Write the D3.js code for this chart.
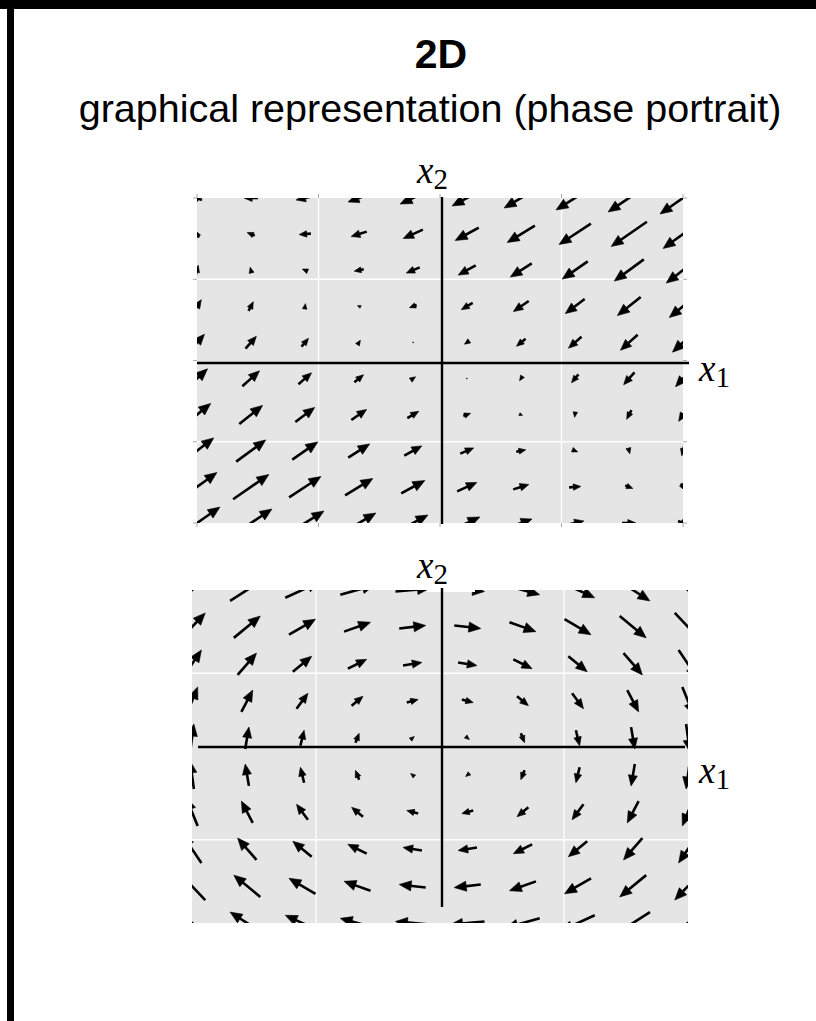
<!DOCTYPE html>
<html>
<head>
<meta charset="utf-8">
<script src="https://cdn.jsdelivr.net/npm/d3@7"></script>
<style>
  body { margin: 0; background: #fff; }
  svg { display: block; }
</style>
</head>
<body>
<svg id="chart" width="816" height="1021"></svg>
<script>
// Sample grid of the vector fields (data units), rows listed from top (x2 = 2) to bottom
const gridX = [-2, -1.556, -1.111, -0.667, -0.222, 0.222, 0.667, 1.111, 1.556, 2];
const gridY = [2, 1.556, 1.111, 0.667, 0.222, -0.222, -0.667, -1.111, -1.556, -2];

// Field 1 (saddle-like flow), dx1/dt per grid row
const saddleU = [
  [-0.58, -0.82, -1.05, -1.29, -1.52, -1.76, -1.99, -2.23, -2.47, -2.70],
  [-0.22, -0.45, -0.69, -0.92, -1.16, -1.39, -1.63, -1.87, -2.10, -2.34],
  [ 0.15, -0.09, -0.32, -0.56, -0.79, -1.03, -1.26, -1.50, -1.74, -1.97],
  [ 0.51,  0.28,  0.04, -0.19, -0.43, -0.67, -0.90, -1.14, -1.37, -1.61],
  [ 0.88,  0.64,  0.41,  0.17, -0.06, -0.30, -0.54, -0.77, -1.01, -1.24],
  [ 1.24,  1.01,  0.77,  0.54,  0.30,  0.06, -0.17, -0.41, -0.64, -0.88],
  [ 1.61,  1.37,  1.14,  0.90,  0.67,  0.43,  0.19, -0.04, -0.28, -0.51],
  [ 1.97,  1.74,  1.50,  1.26,  1.03,  0.79,  0.56,  0.32,  0.09, -0.15],
  [ 2.34,  2.10,  1.87,  1.63,  1.39,  1.16,  0.92,  0.69,  0.45,  0.22],
  [ 2.70,  2.47,  2.23,  1.99,  1.76,  1.52,  1.29,  1.05,  0.82,  0.58]
];
// Field 1, dx2/dt per grid row
const saddleV = [
  [ 0.28,  0.00, -0.29, -0.57, -0.86, -1.14, -1.43, -1.71, -2.00, -2.28],
  [ 0.50,  0.22, -0.07, -0.35, -0.64, -0.92, -1.21, -1.49, -1.77, -2.06],
  [ 0.72,  0.44,  0.16, -0.13, -0.41, -0.70, -0.98, -1.27, -1.55, -1.84],
  [ 0.95,  0.66,  0.38,  0.09, -0.19, -0.48, -0.76, -1.04, -1.33, -1.61],
  [ 1.17,  0.89,  0.60,  0.32,  0.03, -0.25, -0.54, -0.82, -1.11, -1.39],
  [ 1.39,  1.11,  0.82,  0.54,  0.25, -0.03, -0.32, -0.60, -0.89, -1.17],
  [ 1.61,  1.33,  1.04,  0.76,  0.48,  0.19, -0.09, -0.38, -0.66, -0.95],
  [ 1.84,  1.55,  1.27,  0.98,  0.70,  0.41,  0.13, -0.16, -0.44, -0.72],
  [ 2.06,  1.77,  1.49,  1.21,  0.92,  0.64,  0.35,  0.07, -0.22, -0.50],
  [ 2.28,  2.00,  1.71,  1.43,  1.14,  0.86,  0.57,  0.29,  0.00, -0.28]
];

// Field 2 (clockwise rotation), dx1/dt per grid row
const centerU = [
  [ 2.00,  2.00,  2.00,  2.00,  2.00,  2.00,  2.00,  2.00,  2.00,  2.00],
  [ 1.56,  1.56,  1.56,  1.56,  1.56,  1.56,  1.56,  1.56,  1.56,  1.56],
  [ 1.11,  1.11,  1.11,  1.11,  1.11,  1.11,  1.11,  1.11,  1.11,  1.11],
  [ 0.67,  0.67,  0.67,  0.67,  0.67,  0.67,  0.67,  0.67,  0.67,  0.67],
  [ 0.22,  0.22,  0.22,  0.22,  0.22,  0.22,  0.22,  0.22,  0.22,  0.22],
  [-0.22, -0.22, -0.22, -0.22, -0.22, -0.22, -0.22, -0.22, -0.22, -0.22],
  [-0.67, -0.67, -0.67, -0.67, -0.67, -0.67, -0.67, -0.67, -0.67, -0.67],
  [-1.11, -1.11, -1.11, -1.11, -1.11, -1.11, -1.11, -1.11, -1.11, -1.11],
  [-1.56, -1.56, -1.56, -1.56, -1.56, -1.56, -1.56, -1.56, -1.56, -1.56],
  [-2.00, -2.00, -2.00, -2.00, -2.00, -2.00, -2.00, -2.00, -2.00, -2.00]
];
// Field 2, dx2/dt per grid row
const centerV = [
  [ 2.00,  1.56,  1.11,  0.67,  0.22, -0.22, -0.67, -1.11, -1.56, -2.00],
  [ 2.00,  1.56,  1.11,  0.67,  0.22, -0.22, -0.67, -1.11, -1.56, -2.00],
  [ 2.00,  1.56,  1.11,  0.67,  0.22, -0.22, -0.67, -1.11, -1.56, -2.00],
  [ 2.00,  1.56,  1.11,  0.67,  0.22, -0.22, -0.67, -1.11, -1.56, -2.00],
  [ 2.00,  1.56,  1.11,  0.67,  0.22, -0.22, -0.67, -1.11, -1.56, -2.00],
  [ 2.00,  1.56,  1.11,  0.67,  0.22, -0.22, -0.67, -1.11, -1.56, -2.00],
  [ 2.00,  1.56,  1.11,  0.67,  0.22, -0.22, -0.67, -1.11, -1.56, -2.00],
  [ 2.00,  1.56,  1.11,  0.67,  0.22, -0.22, -0.67, -1.11, -1.56, -2.00],
  [ 2.00,  1.56,  1.11,  0.67,  0.22, -0.22, -0.67, -1.11, -1.56, -2.00],
  [ 2.00,  1.56,  1.11,  0.67,  0.22, -0.22, -0.67, -1.11, -1.56, -2.00]
];

const gridBreaks = [-1, 1];
const tickBreaks = [-2, -1, 0, 1, 2];
const titleText = "2D";
const subtitleText = "graphical representation (phase portrait)";

const svg = d3.select("#chart");

// slide frame
svg.append("rect").attr("x", 0).attr("y", 0).attr("width", 816).attr("height", 9).attr("fill", "#000");
svg.append("rect").attr("x", 7).attr("y", 0).attr("width", 7).attr("height", 1021).attr("fill", "#000");

svg.append("text")
  .attr("x", 441).attr("y", 68)
  .attr("text-anchor", "middle")
  .style("font-family", "'Liberation Sans', Arial, sans-serif")
  .style("font-weight", "bold").style("font-size", "41px")
  .text(titleText);

svg.append("text")
  .attr("x", 430).attr("y", 122)
  .attr("text-anchor", "middle")
  .style("font-family", "'Liberation Sans', Arial, sans-serif")
  .style("font-size", "39.5px")
  .text(subtitleText);

function drawPortrait(cfg) {
  const x = d3.scaleLinear().domain([-2, 2]).range([cfg.left, cfg.right]);
  const y = d3.scaleLinear().domain([-2, 2]).range([cfg.bottom, cfg.top]);
  const g = svg.append("g");
  const clipId = "clip-" + cfg.id;
  svg.append("clipPath").attr("id", clipId)
    .append("rect")
    .attr("x", cfg.left).attr("y", cfg.top)
    .attr("width", cfg.right - cfg.left).attr("height", cfg.bottom - cfg.top);

  g.append("rect")
    .attr("x", cfg.left).attr("y", cfg.top)
    .attr("width", cfg.right - cfg.left).attr("height", cfg.bottom - cfg.top)
    .attr("fill", "#e5e5e5");

  g.selectAll(".gx").data(gridBreaks).join("line")
    .attr("x1", d => x(d)).attr("x2", d => x(d))
    .attr("y1", cfg.top).attr("y2", cfg.bottom)
    .attr("stroke", "#fff").attr("stroke-width", 1.3);
  g.selectAll(".gy").data(gridBreaks).join("line")
    .attr("y1", d => y(d)).attr("y2", d => y(d))
    .attr("x1", cfg.left).attr("x2", cfg.right)
    .attr("stroke", "#fff").attr("stroke-width", 1.3);

  if (cfg.ticks) {
    const tk = g.append("g").attr("stroke", "#a8a8a8").attr("stroke-width", 1);
    tickBreaks.forEach(t => {
      tk.append("line").attr("x1", cfg.left - 4).attr("x2", cfg.left).attr("y1", y(t)).attr("y2", y(t));
      tk.append("line").attr("x1", cfg.right).attr("x2", cfg.right + 4).attr("y1", y(t)).attr("y2", y(t));
      tk.append("line").attr("y1", cfg.bottom).attr("y2", cfg.bottom + 4).attr("x1", x(t)).attr("x2", x(t));
      tk.append("line").attr("y1", cfg.top - 4).attr("y2", cfg.top).attr("x1", x(t)).attr("x2", x(t));
    });
  }

  // arrows centred on their grid points
  const pts = [];
  gridY.forEach((gy, r) => gridX.forEach((gx, c) => {
    pts.push({ gx, gy, u: cfg.U[r][c], v: cfg.V[r][c] });
  }));
  const arrows = g.append("g").attr("clip-path", `url(#${clipId})`);
  pts.forEach(p => {
    const x0 = x(p.gx - p.u * cfg.sx / 2), x1 = x(p.gx + p.u * cfg.sx / 2);
    const y0 = y(p.gy - p.v * cfg.sy / 2), y1 = y(p.gy + p.v * cfg.sy / 2);
    const dx = x1 - x0, dy = y1 - y0;
    const L = Math.hypot(dx, dy);
    if (L < 0.5) return;
    const ux = dx / L, uy = dy / L;
    const h = Math.min(L, Math.min(12, 0.3 * L + 4));
    const w = h * 0.85;
    const bx = x1 - ux * h, by = y1 - uy * h;
    if (L - h > 0.5) {
      arrows.append("line")
        .attr("x1", x0).attr("y1", y0).attr("x2", bx + ux * 1.5).attr("y2", by + uy * 1.5)
        .attr("stroke", "#000").attr("stroke-width", 2.6);
    }
    arrows.append("path")
      .attr("d", d3.line()([[x1, y1], [bx - uy * w / 2, by + ux * w / 2], [bx + uy * w / 2, by - ux * w / 2]]) + "Z")
      .attr("fill", "#000").attr("stroke", "#000").attr("stroke-width", 0.6).attr("stroke-linejoin", "round");
  });

  if (cfg.labelMask) {
    svg.append("rect").attr("x", cfg.labelMask[0]).attr("y", cfg.labelMask[1])
      .attr("width", cfg.labelMask[2]).attr("height", cfg.labelMask[3]).attr("fill", "#fff");
  }

  // hand-drawn coordinate axes
  svg.append("line").attr("x1", cfg.axisX).attr("x2", cfg.axisX)
    .attr("y1", cfg.vTop).attr("y2", cfg.vBottom).attr("stroke", "#000").attr("stroke-width", 2.4);
  svg.append("line").attr("y1", cfg.axisY).attr("y2", cfg.axisY)
    .attr("x1", cfg.hLeft).attr("x2", cfg.hRight).attr("stroke", "#000").attr("stroke-width", 2.4);

  const label = (tx, ty, sub) => {
    const t = svg.append("text").attr("x", tx).attr("y", ty)
      .style("font-family", "'Liberation Serif', 'Times New Roman', serif");
    t.append("tspan").style("font-style", "italic").style("font-size", "37px").text("x");
    t.append("tspan").attr("dy", 6).style("font-size", "29px").text(sub);
  };
  label(cfg.x2Label[0], cfg.x2Label[1], "2");
  label(cfg.x1Label[0], cfg.x1Label[1], "1");
}

drawPortrait({
  id: "saddle", left: 197, right: 683, top: 198, bottom: 523,
  U: saddleU, V: saddleV, sx: 0.14, sy: 0.172, ticks: true,
  axisX: 442, vTop: 197, vBottom: 524, axisY: 363, hLeft: 197, hRight: 689,
  x2Label: [417, 183], x1Label: [699, 381]
});

drawPortrait({
  id: "center", left: 192, right: 688, top: 590, bottom: 923,
  U: centerU, V: centerV, sx: 0.137, sy: 0.168, ticks: false,
  labelMask: [427, 545, 48, 47],
  axisX: 442, vTop: 588, vBottom: 907, axisY: 747, hLeft: 198, hRight: 685,
  x2Label: [417, 578], x1Label: [699, 783]
});
</script>
</body>
</html>
